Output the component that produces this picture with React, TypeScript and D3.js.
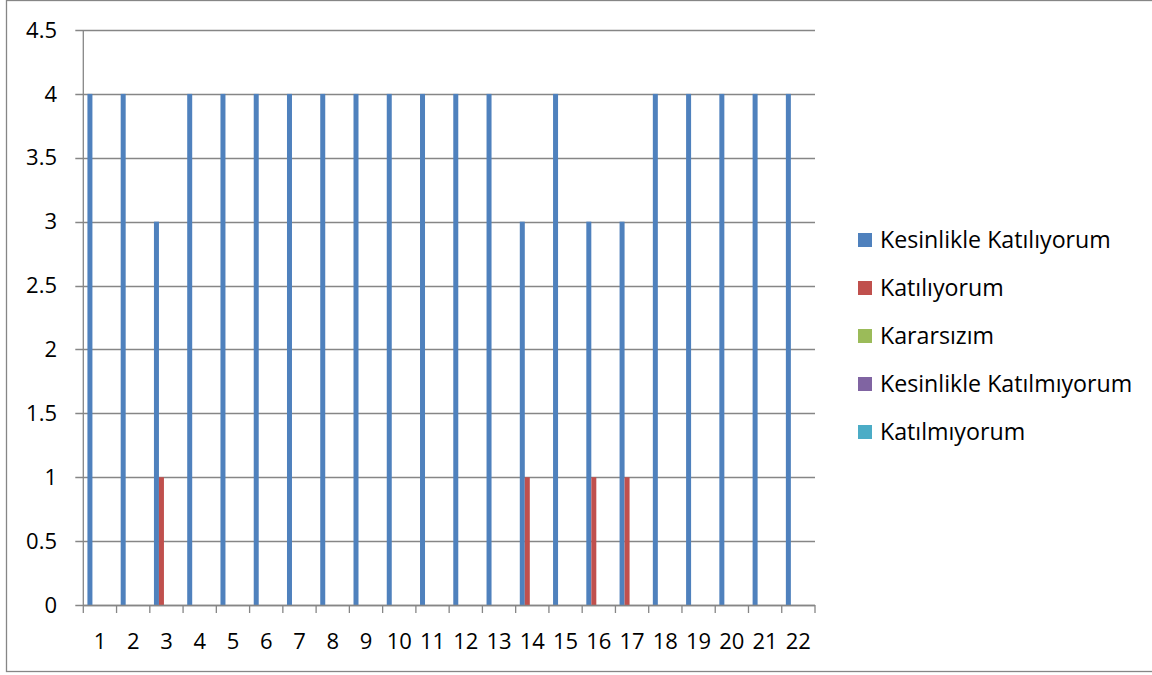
import React from "react";
import * as d3 from "d3";

const categories = ["1","2","3","4","5","6","7","8","9","10","11","12","13","14","15","16","17","18","19","20","21","22"];
const seriesNames = ["Kesinlikle Katılıyorum","Katılıyorum","Kararsızım","Kesinlikle Katılmıyorum","Katılmıyorum"];
const seriesColors = ["#4F81BD","#C0504D","#9BBB59","#8064A2","#4BACC6"];
const kesinlikleKatiliyorum = [4,4,3,4,4,4,4,4,4,4,4,4,4,3,4,3,3,4,4,4,4,4];
const katiliyorum = [0,0,1,0,0,0,0,0,0,0,0,0,0,1,0,1,1,0,0,0,0,0];
const kararsizim = [0,0,0,0,0,0,0,0,0,0,0,0,0,0,0,0,0,0,0,0,0,0];
const kesinlikleKatilmiyorum = [0,0,0,0,0,0,0,0,0,0,0,0,0,0,0,0,0,0,0,0,0,0];
const katilmiyorum = [0,0,0,0,0,0,0,0,0,0,0,0,0,0,0,0,0,0,0,0,0,0];
const yTicks = [0,0.5,1,1.5,2,2.5,3,3.5,4,4.5];

const seriesValues = [kesinlikleKatiliyorum, katiliyorum, kararsizim, kesinlikleKatilmiyorum, katilmiyorum];

export default function App() {
  const W = 1152, H = 675;
  const left = 83.3, right = 815, top = 30, bottom = 605;
  const font = "'Open Sans', sans-serif";
  const fs = 22;
  const x = d3.scaleBand<string>().domain(categories).range([left, right]).padding(0);
  const y = d3.scaleLinear().domain([0, 4.5]).range([bottom, top]);
  const bw = x.bandwidth();
  const groupW = bw * 5 / 6.65;
  const inner = d3.scaleBand<number>().domain(d3.range(5)).range([(bw - groupW) / 2, (bw + groupW) / 2]);
  const grid = "#868686";
  return (
    <svg width={W} height={H} style={{ position: "absolute", left: 0, top: 0, background: "#fff" }}>
      <rect x={6.5} y={0.5} width={W + 10} height={671} fill="#fff" stroke={grid} strokeWidth={1.3} />
      {yTicks.map((t) => (
        <g key={t}>
          <line x1={left - 8} x2={right} y1={Math.round(y(t)) + 0.5} y2={Math.round(y(t)) + 0.5} stroke={grid} strokeWidth={1.3} />
          <text x={57} y={y(t)} dy="0.35em" textAnchor="end" fontFamily={font} fontSize={fs} fill="#000">{t}</text>
        </g>
      ))}
      {seriesValues.map((vals, si) =>
        vals.map((v, ci) => v > 0 ? (
          <rect key={si + "-" + ci} x={(x(categories[ci]) as number) + (inner(si) as number)} y={y(v)} width={inner.bandwidth()} height={bottom - y(v)} fill={seriesColors[si]} />
        ) : null)
      )}
      <line x1={left} x2={left} y1={top} y2={bottom} stroke={grid} strokeWidth={1.3} />
      <line x1={left} x2={right} y1={bottom + 0.5} y2={bottom + 0.5} stroke={grid} strokeWidth={1.3} />
      {categories.map((c) => (
        <line key={"t" + c} x1={x(c) as number} x2={x(c) as number} y1={bottom} y2={bottom + 8} stroke={grid} strokeWidth={1.3} />
      ))}
      <line x1={right} x2={right} y1={bottom} y2={bottom + 8} stroke={grid} strokeWidth={1.3} />
      {categories.map((c) => (
        <text key={"l" + c} x={(x(c) as number) + bw / 2} y={641} dy="0.35em" textAnchor="middle" fontFamily={font} fontSize={fs} fill="#000">{c}</text>
      ))}
      {seriesNames.map((n, i) => (
        <g key={n} transform={`translate(858, ${240 + i * 48})`}>
          <rect x={0} y={-7} width={14} height={14} fill={seriesColors[i]} />
          <text x={22} y={0} dy="0.35em" fontFamily={font} fontSize={23.2} fill="#000">{n}</text>
        </g>
      ))}
    </svg>
  );
}
